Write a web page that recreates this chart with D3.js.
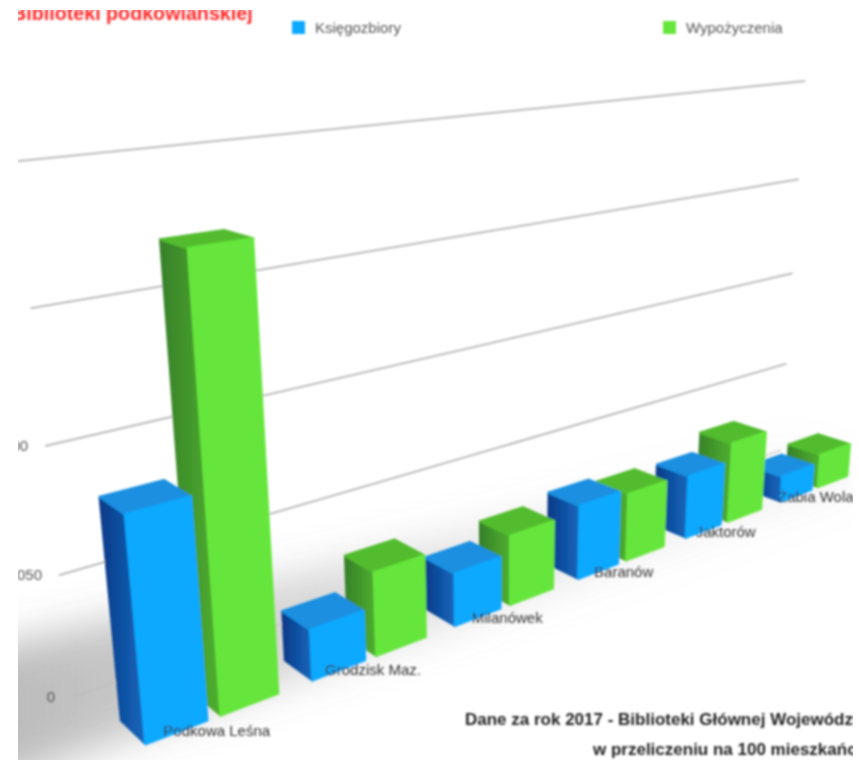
<!DOCTYPE html>
<html>
<head>
<meta charset="utf-8">
<script src="https://cdnjs.cloudflare.com/ajax/libs/d3/7.8.5/d3.min.js"></script>
<style>
  html, body { margin: 0; padding: 0; background: #fff; }
  svg { display: block; font-family: "Liberation Sans", Arial, sans-serif; }
</style>
</head>
<body>
<svg id="chart" width="859" height="760"></svg>
<script>
// Chart data
let categories = ["Podkowa Leśna", "Grodzisk Maz.", "Milanówek", "Baranów", "Jaktorów", "Żabia Wola"];
let ksiegozbiory = [1830, 446, 493, 725, 647, 276];
let wypozyczenia = [3630, 755, 664, 677, 841, 369];
let tickValues = [0, 1050, 2100, 3150, 4200];
let tickLabels = [0, 1050, 2100];
let seriesNames = ["Księgozbiory", "Wypożyczenia"];
let seriesColors = [
  {front: "#0fa9ff", top: "#1a8fe0", dark: "#0a3a88", light: "#1668bd"},
  {front: "#66e63c", top: "#52bc2e", dark: "#37802a", light: "#4fb02f"}
];

// Camera: screen position of the origin and the three vanishing points
let origin = [72, 697], vpX = [2270, -68], vpY = [500, 4700], vpZ = [-645, -19];
let perspX = 0.08, perspY = -0.0295, perspZ = -0.03;

function project(X, Y, Z) {
  let p = perspX * X, r = perspY * Y, q = perspZ * Z;
  let w = 1 + p + r + q;
  return [
    (origin[0] + p * vpX[0] + r * vpY[0] + q * vpZ[0]) / w,
    (origin[1] + p * vpX[1] + r * vpY[1] + q * vpZ[1]) / w
  ];
}

// Scales from data to world units
let xBand = d3.scaleBand().domain(categories).range([0, 6]);
let xSeries = d3.scaleBand().domain(seriesNames).range([-0.005, xBand.bandwidth() - 0.005])
  .paddingInner(0.186).paddingOuter(0.256);
let xLabel = d3.scalePoint().domain(categories).range([0.42, 5.29]);
let yWorld = d3.scaleLinear().domain([0, 1050]).range([0, 1]);
let barBack = 1.35, barFront = 2.35, labelDepth = 2.93, wallEnd = 5.95;

let line = d3.line();
let svg = d3.select("#chart");
let defs = svg.append("defs");

defs.append("clipPath").attr("id", "frame").append("rect")
  .attr("x", 18).attr("y", 10).attr("width", 835).attr("height", 750);
defs.append("filter").attr("id", "soft")
  .attr("filterUnits", "userSpaceOnUse")
  .attr("x", 0).attr("y", 0).attr("width", 859).attr("height", 760)
  .append("feGaussianBlur").attr("stdDeviation", 1.05);
defs.append("filter").attr("id", "shadowBlur")
  .attr("filterUnits", "userSpaceOnUse")
  .attr("x", -300).attr("y", 300).attr("width", 1300).attr("height", 800)
  .append("feGaussianBlur").attr("stdDeviation", 20);

let shadowGrad = defs.append("linearGradient").attr("id", "shadowGrad")
  .attr("gradientUnits", "userSpaceOnUse")
  .attr("x1", 18).attr("x2", 720).attr("y1", 0).attr("y2", 0);
shadowGrad.append("stop").attr("offset", 0).attr("stop-color", "#666").attr("stop-opacity", 0.44);
shadowGrad.append("stop").attr("offset", 0.45).attr("stop-color", "#777").attr("stop-opacity", 0.28);
shadowGrad.append("stop").attr("offset", 1).attr("stop-color", "#999").attr("stop-opacity", 0.12);

seriesColors.forEach(function(c, i) {
  let g = defs.append("linearGradient").attr("id", "side" + i);
  g.append("stop").attr("offset", 0).attr("stop-color", c.dark);
  g.append("stop").attr("offset", 1).attr("stop-color", c.light);
});

let frame = svg.append("g").attr("clip-path", "url(#frame)");

// Shadow on the floor
frame.append("path")
  .attr("d", line([project(-1, 0.75, 0.5), project(6, 0, 0.3), project(6, 0, 2.9), project(-1, 0, 1.8)]) + "Z")
  .attr("fill", "url(#shadowGrad)")
  .attr("filter", "url(#shadowBlur)");

let chart = frame.append("g").attr("filter", "url(#soft)");

// Gridlines on the back wall
chart.selectAll("path.grid")
  .data(tickValues)
  .enter().append("path")
    .attr("class", "grid")
    .attr("d", function(d) { return line([project(0, yWorld(d), 0), project(wallEnd, yWorld(d), 0)]); })
    .attr("stroke", "#bcbcbc")
    .attr("stroke-opacity", function(d) { return d == 0 ? 0.5 : 1; })
    .attr("stroke-width", 2)
    .attr("fill", "none");

// Value axis labels
chart.selectAll("text.tick")
  .data(tickLabels)
  .enter().append("text")
    .attr("class", "tick")
    .attr("x", function(d) { return project(0, yWorld(d), 0)[0] - 17; })
    .attr("y", function(d) { return project(0, yWorld(d), 0)[1] + 5; })
    .attr("text-anchor", "end")
    .attr("font-size", 15)
    .attr("fill", "#555")
    .text(function(d) { return d; });

// Bars, flattened and drawn from right to left so nearer ones cover farther ones
let bars = [];
categories.forEach(function(cat, i) {
  [ksiegozbiory, wypozyczenia].forEach(function(values, s) {
    bars.push({cat: cat, s: s, value: values[i], x0: xBand(cat) + xSeries(seriesNames[s])});
  });
});
bars.reverse();

function drawFace(g, points, fill) {
  g.append("path")
    .attr("d", line(points) + "Z")
    .attr("fill", fill)
    .attr("stroke", fill)
    .attr("stroke-width", 2.5)
    .attr("stroke-linejoin", "round");
}

bars.forEach(function(d) {
  let g = chart.append("g").attr("class", "bar");
  let colors = seriesColors[d.s];
  let x0 = d.x0, x1 = d.x0 + xSeries.bandwidth(), h = yWorld(d.value);
  // left side
  drawFace(g, [project(x0, 0, barBack), project(x0, 0, barFront), project(x0, h, barFront), project(x0, h, barBack)], "url(#side" + d.s + ")");
  // top
  drawFace(g, [project(x0, h, barFront), project(x1, h, barFront), project(x1, h, barBack), project(x0, h, barBack)], colors.top);
  // front
  drawFace(g, [project(x0, 0, barFront), project(x1, 0, barFront), project(x1, h, barFront), project(x0, h, barFront)], colors.front);
});

// Category labels
chart.selectAll("text.cat")
  .data(categories)
  .enter().append("text")
    .attr("class", "cat")
    .attr("x", function(d) { return project(xLabel(d), 0, labelDepth)[0]; })
    .attr("y", function(d) { return project(xLabel(d), 0, labelDepth)[1]; })
    .attr("text-anchor", "middle")
    .attr("font-size", 15)
    .attr("fill", "#333")
    .text(function(d) { return d; });

// Title
chart.append("text")
  .attr("x", 12).attr("y", 20)
  .attr("font-size", 19.7).attr("font-weight", "bold")
  .attr("fill", "#ff2a2a")
  .text("Biblioteki podkowiańskiej");

// Legend
let legendX = [292, 663];
seriesNames.forEach(function(name, i) {
  chart.append("rect")
    .attr("x", legendX[i]).attr("y", 21)
    .attr("width", 13).attr("height", 13)
    .attr("fill", seriesColors[i].front);
  chart.append("text")
    .attr("x", legendX[i] + 23).attr("y", 33)
    .attr("font-size", 15).attr("fill", "#555")
    .text(name);
});

// Note in the corner
chart.append("text")
  .attr("x", 465).attr("y", 725)
  .attr("font-size", 17).attr("font-weight", "bold").attr("fill", "#222")
  .text("Dane za rok 2017 - Biblioteki Głównej Województwa");
chart.append("text")
  .attr("x", 593).attr("y", 755)
  .attr("font-size", 17).attr("font-weight", "bold").attr("fill", "#222")
  .text("w przeliczeniu na 100 mieszkańców");
</script>
</body>
</html>
